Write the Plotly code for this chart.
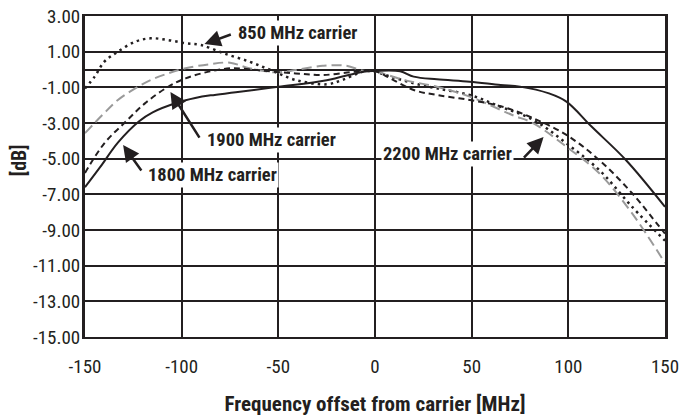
import plotly.graph_objects as go

# offsets in MHz and response in dB
x_850 = [-150, -145, -140, -133, -124, -116, -107, -98, -90, -78, -65, -54, -41, -25, -17, -6, 0, 8, 20, 32, 49, 65, 82, 99, 116, 133, 150]
db_850 = [-1.06, -0.4, 0.44, 1.0, 1.56, 1.75, 1.65, 1.47, 1.37, 0.9, 0.44, -0.03, -0.59, -0.83, -0.59, -0.12, -0.12, -0.4, -0.77, -1.06, -1.43, -2.09, -2.83, -4.14, -5.64, -7.7, -9.6]

x_1800 = [-150, -142, -133, -122, -115, -102, -93, -85, -72, -50, -25, -6, 0, 13, 20, 32, 49, 65, 75, 90, 99, 112, 130, 150]
db_1800 = [-6.6, -5.45, -4.1, -2.9, -2.4, -1.85, -1.6, -1.45, -1.28, -0.97, -0.6, -0.12, -0.08, -0.1, -0.4, -0.55, -0.68, -0.87, -0.96, -1.34, -1.8, -3.2, -5.1, -7.7]

x_1900 = [-150, -140, -129, -119, -107, -98, -86, -74, -58, -41, -27, -10, 0, 8, 20, 32, 49, 66, 82, 99, 116, 133, 147, 150]
db_1900 = [-5.8, -4.14, -2.93, -1.9, -0.97, -0.5, -0.12, 0.07, -0.07, -0.22, -0.31, -0.12, -0.1, -0.5, -1.15, -1.43, -1.71, -2.09, -2.74, -3.67, -5.08, -6.94, -8.8, -9.2]

x_2200 = [-150, -141, -133, -124, -116, -107, -98, -86, -75, -65, -51, -41, -27, -15, -6, 0, 15, 32, 49, 71, 82, 99, 116, 133, 150]
db_2200 = [-3.57, -2.55, -1.71, -1.06, -0.59, -0.22, 0.07, 0.29, 0.38, 0.07, -0.16, -0.03, 0.21, 0.21, -0.07, -0.1, -0.59, -0.97, -1.52, -2.55, -3.02, -4.33, -5.82, -8.07, -10.85]

y_ticks = [3, 1, -1, -3, -5, -7, -9, -11, -13, -15]
y_tick_text = ["3.00", "1.00", "-1.00", "-3.00", "-5.00", "-7.00", "-9.00", "-11.00", "-13.00", "-15.00"]
x_ticks = [-150, -100, -50, 0, 50, 100, 150]
x_tick_text = ["-150", "-100", "-50", "0", "50", "100", "150"]

INK = "#231f20"
FONT = "Roboto Condensed, DejaVu Sans Condensed, Liberation Sans"

fig = go.Figure()
fig.add_trace(go.Scatter(x=x_850, y=db_850, mode="lines", line=dict(color=INK, width=2.5, dash="2.5px,4px", shape="spline")))
fig.add_trace(go.Scatter(x=x_2200, y=db_2200, mode="lines", line=dict(color="#9a9a9a", width=2, dash="10px,5px", shape="spline")))
fig.add_trace(go.Scatter(x=x_1900, y=db_1900, mode="lines", line=dict(color=INK, width=2, dash="6px,4px", shape="spline")))
fig.add_trace(go.Scatter(x=x_1800, y=db_1800, mode="lines", line=dict(color=INK, width=2, shape="spline")))

labels = [
    ("850 MHz carrier", -40.1, 2.05),
    ("1900 MHz carrier", -53.6, -3.96),
    ("1800 MHz carrier", -84.1, -5.92),
    ("2200 MHz carrier", 37.6, -4.74),
]
for text, lx, ly in labels:
    fig.add_annotation(x=lx, y=ly, text="<b>%s</b>" % text, showarrow=False,
                       bgcolor="white", borderpad=1,
                       font=dict(family=FONT, size=18.5, color=INK))

# arrows: (tip x, tip y, tail x, tail y)
arrows = [
    (-88.2, 1.43, -73.8, 1.99),
    (-105.8, -1.26, -90.3, -3.90),
    (-130.3, -4.24, -120.3, -5.75),
    (87.2, -3.79, 76.3, -5.02),
]
for tx, ty, sx, sy in arrows:
    fig.add_annotation(x=tx, y=ty, ax=sx, ay=sy, xref="x", yref="y", axref="x", ayref="y",
                       text="", showarrow=True, arrowhead=2, arrowsize=1.3, arrowwidth=2.5,
                       arrowcolor=INK)

fig.add_shape(type="line", x0=70.6, x1=76.6, y0=-5.02, y1=-5.02, line=dict(color=INK, width=2))

fig.add_annotation(x=0.0, xref="paper", y=0.551, yref="paper", xanchor="center", yanchor="middle",
                   xshift=-66, text="<b>[dB]</b>", textangle=-90, showarrow=False,
                   font=dict(family=FONT, size=20, color=INK))

fig.update_layout(
    width=684, height=419,
    margin=dict(l=85, r=19, t=16, b=82, autoexpand=False),
    paper_bgcolor="white", plot_bgcolor="white",
    showlegend=False,
    font=dict(family=FONT, size=19, color=INK),
    xaxis=dict(range=[-150, 150], tickvals=x_ticks, ticktext=x_tick_text, showgrid=True,
               gridcolor=INK, gridwidth=2, zeroline=True, zerolinecolor=INK, zerolinewidth=2,
               showline=True, mirror=True, linecolor=INK, linewidth=2,
               ticks="", ticklabelstandoff=11, automargin=False,
               title=dict(text="<b>Frequency offset from carrier [MHz]</b>", standoff=20,
                          font=dict(family=FONT, size=21, color=INK))),
    yaxis=dict(range=[-15, 3], tickvals=y_ticks, ticktext=y_tick_text, showgrid=True, gridcolor=INK,
               gridwidth=2, zeroline=True, zerolinecolor=INK, zerolinewidth=2,
               showline=True, mirror=True, linecolor=INK, linewidth=3,
               ticks="", ticklabelstandoff=-2, automargin=False),
)

# drop the browser's default page margin so the figure sits at the window origin
fig.write_html("out.html", config={"displayModeBar": False},
               post_script="document.body.style.margin = '0';")
